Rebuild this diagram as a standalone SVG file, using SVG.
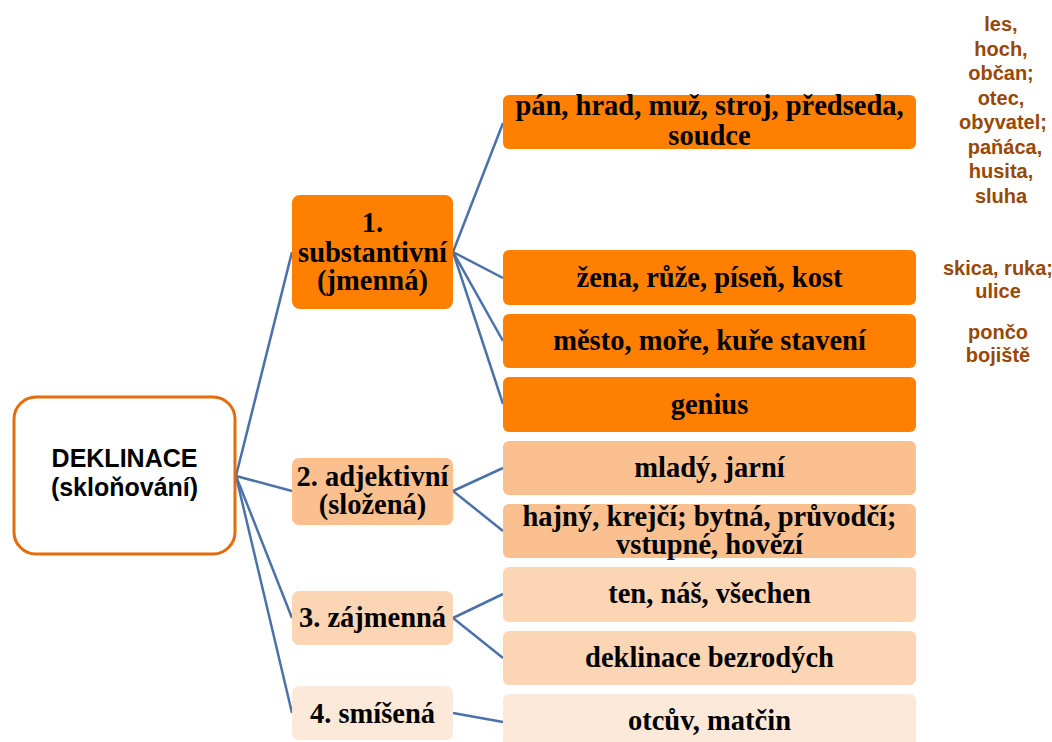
<svg xmlns="http://www.w3.org/2000/svg" width="1052" height="742" viewBox="0 0 1052 742">
<style>
.serif{font-family:"Liberation Serif","Times New Roman",serif;font-weight:bold;font-size:28.5px;fill:#000;text-anchor:middle}
.sans{font-family:"Liberation Sans",Arial,sans-serif;font-weight:bold;font-size:25px;fill:#000;text-anchor:middle}
.note{font-family:"Liberation Sans",Arial,sans-serif;font-weight:bold;font-size:20px;fill:#984807;text-anchor:middle}
.c1{fill:#FF8000}
.c2{fill:#FAC090}
.c3{fill:#FCD5B5}
.c4{fill:#FDE9D9}
.conn line{stroke:#4A72A8;stroke-width:2.5;fill:none}
</style>
<rect width="1052" height="742" fill="#fff"/>
<g class="conn" id="connectors">
<line x1="236" y1="476" x2="292" y2="252"/>
<line x1="236" y1="476" x2="292" y2="491"/>
<line x1="236" y1="476" x2="292" y2="618"/>
<line x1="236" y1="476" x2="292" y2="713"/>
<line x1="453" y1="252" x2="503" y2="123"/>
<line x1="453" y1="252" x2="503" y2="278"/>
<line x1="453" y1="252" x2="503" y2="341"/>
<line x1="453" y1="252" x2="503" y2="404"/>
<line x1="453" y1="491" x2="503" y2="468"/>
<line x1="453" y1="491" x2="503" y2="531"/>
<line x1="453" y1="618" x2="503" y2="594"/>
<line x1="453" y1="618" x2="503" y2="658"/>
<line x1="453" y1="713" x2="503" y2="722"/>
</g>
<g id="root">
<rect x="14" y="397" width="221" height="157" rx="22" fill="#fff" stroke="#E46C0A" stroke-width="3"/>
<text class="sans" x="124.5" y="467">DEKLINACE</text>
<text class="sans" x="124.5" y="496">(skloňování)</text>
</g>
<g id="n1">
<rect class="c1" x="292" y="195" width="161" height="114" rx="8"/>
<text class="serif" x="372.5" y="232">1.</text>
<text class="serif" x="372.5" y="262">substantivní</text>
<text class="serif" x="372.5" y="290">(jmenná)</text>
</g>
<g id="n2">
<rect class="c2" x="292" y="458" width="161" height="67" rx="7"/>
<text class="serif" x="372.5" y="486">2. adjektivní</text>
<text class="serif" x="372.5" y="514">(složená)</text>
</g>
<g id="n3">
<rect class="c3" x="292" y="591" width="161" height="54" rx="7"/>
<text class="serif" x="372.5" y="627">3. zájmenná</text>
</g>
<g id="n4">
<rect class="c4" x="292" y="686" width="161" height="54" rx="7"/>
<text class="serif" x="372.5" y="723">4. smíšená</text>
</g>
<g id="l1">
<rect class="c1" x="503" y="95" width="413" height="54" rx="6"/>
<text class="serif" x="709.5" y="115">pán, hrad, muž, stroj, předseda,</text>
<text class="serif" x="709.5" y="145">soudce</text>
</g>
<g id="l2">
<rect class="c1" x="503" y="250" width="413" height="55" rx="6"/>
<text class="serif" x="709.5" y="287">žena, růže, píseň, kost</text>
</g>
<g id="l3">
<rect class="c1" x="503" y="314" width="413" height="54" rx="6"/>
<text class="serif" x="709.5" y="350">město, moře, kuře stavení</text>
</g>
<g id="l4">
<rect class="c1" x="503" y="377" width="413" height="55" rx="6"/>
<text class="serif" x="709.5" y="414">genius</text>
</g>
<g id="l5">
<rect class="c2" x="503" y="441" width="413" height="54" rx="6"/>
<text class="serif" x="709.5" y="477">mladý, jarní</text>
</g>
<g id="l6">
<rect class="c2" x="503" y="504" width="413" height="54" rx="6"/>
<text class="serif" x="709.5" y="526">hajný, krejčí; bytná, průvodčí;</text>
<text class="serif" x="709.5" y="554">vstupné, hovězí</text>
</g>
<g id="l7">
<rect class="c3" x="503" y="567" width="413" height="55" rx="6"/>
<text class="serif" x="709.5" y="603">ten, náš, všechen</text>
</g>
<g id="l8">
<rect class="c3" x="503" y="631" width="413" height="54" rx="6"/>
<text class="serif" x="709.5" y="667">deklinace bezrodých</text>
</g>
<g id="l9">
<rect class="c4" x="503" y="694" width="413" height="56" rx="6"/>
<text class="serif" x="709.5" y="730">otcův, matčin</text>
</g>
<g id="notes">
<text class="note" x="1001" y="31">les,</text>
<text class="note" x="1001" y="55.5">hoch,</text>
<text class="note" x="1001" y="80">občan;</text>
<text class="note" x="1001" y="104.5">otec,</text>
<text class="note" x="1003" y="129">obyvatel;</text>
<text class="note" x="1005" y="153.5">paňáca,</text>
<text class="note" x="1001" y="178">husita,</text>
<text class="note" x="1001" y="202.5">sluha</text>
<text class="note" x="998" y="275">skica, ruka;</text>
<text class="note" x="998" y="298">ulice</text>
<text class="note" x="998" y="339">pončo</text>
<text class="note" x="998" y="362">bojiště</text>
</g>
</svg>
